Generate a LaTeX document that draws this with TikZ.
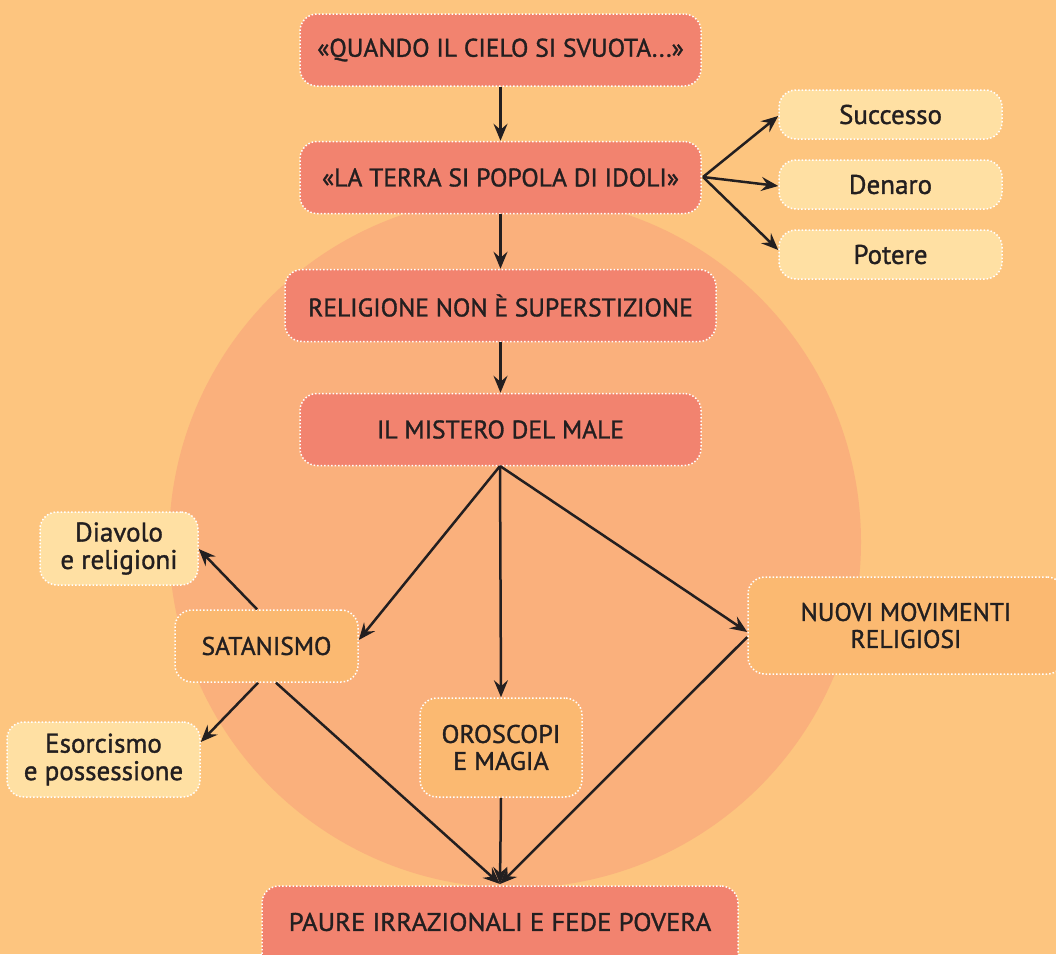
\documentclass[tikz,border=0pt]{standalone}
\usepackage{fontspec}
\setmainfont{PT Sans}[FakeBold=1.2]
\usetikzlibrary{arrows.meta}
\definecolor{bgc}{HTML}{FDC57F}
\definecolor{circc}{HTML}{FAB07C}
\definecolor{redc}{HTML}{F2836F}
\definecolor{yelc}{HTML}{FFE0A3}
\definecolor{orc}{HTML}{FBB971}
\definecolor{txtc}{HTML}{231F20}
\tikzset{
  box/.style={draw=white, dotted, line width=1.5pt, rounded corners=17pt, text=txtc,
    font=\fontsize{25.5}{27}\selectfont, align=center, inner sep=0pt},
  redbox/.style={box, fill=redc},
  yelbox/.style={box, fill=yelc, font=\fontsize{27}{27.5}\selectfont},
  orbox/.style={box, fill=orc},
  arr/.style={draw=txtc, line width=2.5pt, -{Stealth[length=17pt,width=14pt,inset=6pt]}}
}
\begin{document}
\begin{tikzpicture}[x=1pt,y=-1pt]
\useasboundingbox (0,0) rectangle (1056,954);
\clip (0,0) rectangle (1056,954);
\fill[bgc] (0,0) rectangle (1056,954);
\fill[circc] (515,542) circle (346);
% main column
\node[redbox, minimum width=401pt, minimum height=72pt] (q) at (500.5,50) {«QUANDO IL CIELO SI SVUOTA...»};
\node[redbox, minimum width=401pt, minimum height=72pt] (t) at (500.5,177.5) {«LA TERRA SI POPOLA DI IDOLI»};
\node[redbox, minimum width=431pt, minimum height=72pt] (r) at (500.5,305.5) {RELIGIONE NON È SUPERSTIZIONE};
\node[redbox, minimum width=401pt, minimum height=72pt] (m) at (500.5,429.5) {IL MISTERO DEL MALE};
\node[redbox, minimum width=476pt, minimum height=100pt] (p) at (500,936) {};
\node[text=txtc, font=\fontsize{25.5}{27}\selectfont] (pt) at (500,922) {\scalebox{1.05}[1]{PAURE IRRAZIONALI E FEDE POVERA}};
% right
\node[yelbox, minimum width=223pt, minimum height=49pt] (s) at (890.5,114.5) {Successo};
\node[yelbox, minimum width=223pt, minimum height=49pt] (d) at (890.5,184.5) {Denaro};
\node[yelbox, minimum width=223pt, minimum height=49pt] (po) at (890.5,254.5) {Potere};
% middle row
\node[orbox, minimum width=183pt, minimum height=72pt] (sa) at (266.5,646) {SATANISMO};
\node[orbox, minimum width=162pt, minimum height=99pt] (o) at (501,747.5) {\scalebox{1.03}[1]{OROSCOPI}\\\scalebox{1.03}[1]{E MAGIA}};
\node[orbox, minimum width=316pt, minimum height=97pt] (n) at (906,625.5) {NUOVI MOVIMENTI\\RELIGIOSI};
% left
\node[yelbox, minimum width=158pt, minimum height=73pt] (dv) at (119,548.5) {Diavolo\\e religioni};
\node[yelbox, minimum width=193pt, minimum height=75pt] (e) at (103.5,759.5) {Esorcismo\\e possessione};
% arrows
\draw[arr] (q.south) -- (t.north);
\draw[arr] (t.south) -- (r.north);
\draw[arr] (r.south) -- (m.north);
\coordinate (tr) at (703,177);
\draw[arr] (tr) -- (s.west |- 0,116);
\draw[arr] (tr) -- (d.west |- 0,186);
\draw[arr] (tr) -- (po.west |- 0,250);
\coordinate (mb) at (500,466);
\draw[arr] (mb) -- (sa.east |- 0,640);
\draw[arr] (mb) -- (o.north);
\draw[arr] (mb) -- (n.west |- 0,632);
\draw[arr] (sa.north -| 257,0) -- (dv.east |- 0,549);
\draw[arr] (sa.south -| 258,0) -- (e.east |- 0,742);
\coordinate (pin) at (500,884);
\draw[arr] (sa.south -| 276,0) -- (pin);
\draw[arr] (o.south) -- (pin);
\draw[arr] (n.west |- 0,637) -- (pin);
\end{tikzpicture}
\end{document}
